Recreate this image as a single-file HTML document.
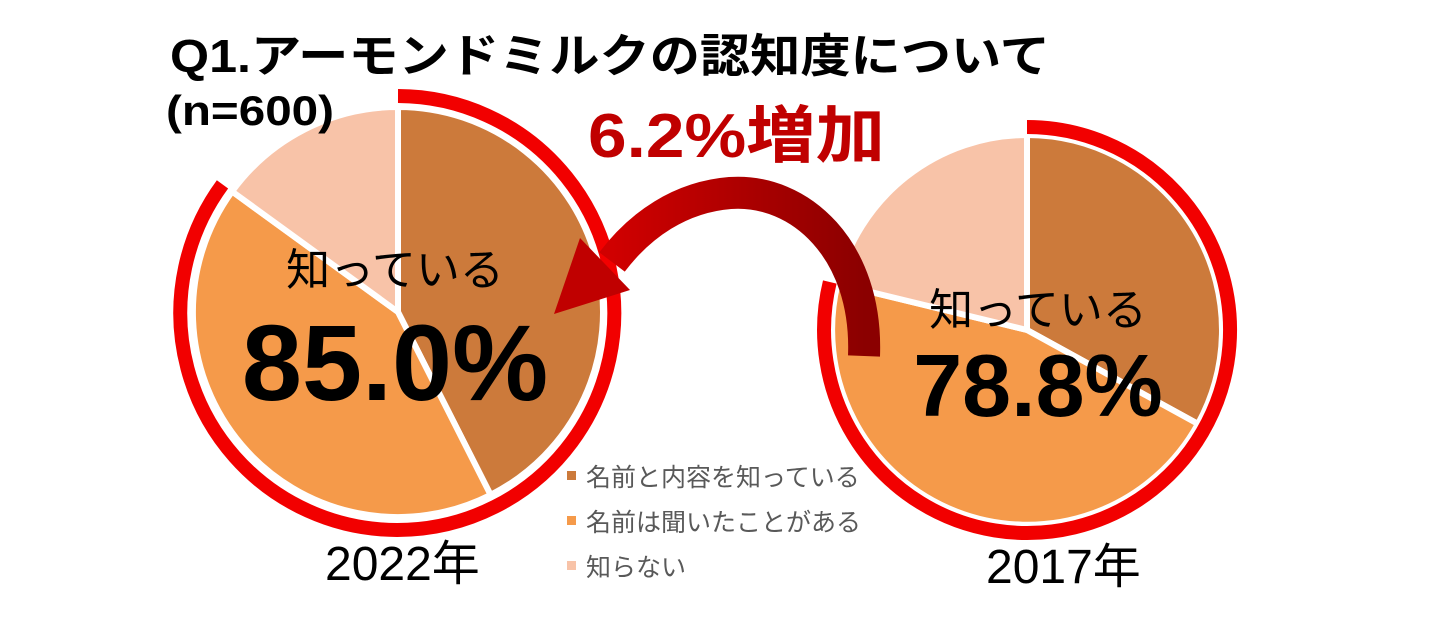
<!DOCTYPE html>
<html><head><meta charset="utf-8"><style>
html,body{margin:0;padding:0;background:#fff;}
body{width:1452px;height:621px;overflow:hidden;position:relative;font-family:"Liberation Sans","Noto Sans CJK JP",sans-serif;}
</style></head><body>
<svg width="1452" height="621" viewBox="0 0 1452 621" xmlns="http://www.w3.org/2000/svg" style="position:absolute;left:0;top:0">
<defs>
<linearGradient id="ag" x1="0" y1="0" x2="1" y2="0">
<stop offset="0" stop-color="#d00000"/><stop offset="1" stop-color="#8b0000"/>
</linearGradient>
</defs>
<g stroke="#fff" stroke-width="6" stroke-linejoin="round">
<path d="M398,312 L398,107 A205,205 0 0 1 490.6,494.9 Z" fill="#cc7a3b"/>
<path d="M398,312 L490.6,494.9 A205,205 0 0 1 232.1,191.5 Z" fill="#f59a4a"/>
<path d="M398,312 L232.1,191.5 A205,205 0 0 1 398,107 Z" fill="#f8c3a8"/>
</g>
<path d="M398,96 A217,217 0 1 1 222.5,184.4" fill="none" stroke="#f20000" stroke-width="14"/>
<g stroke="#fff" stroke-width="6" stroke-linejoin="round">
<path d="M1027,330 L1027,135 A195,195 0 0 1 1197.9,423.9 Z" fill="#cc7a3b"/>
<path d="M1027,330 L1197.9,423.9 A195,195 0 0 1 837.6,283.9 Z" fill="#f59a4a"/>
<path d="M1027,330 L837.6,283.9 A195,195 0 0 1 1027,135 Z" fill="#f8c3a8"/>
</g>
<path d="M1027,127 A203,203 0 1 1 829.8,282" fill="none" stroke="#f20000" stroke-width="14"/>
<path d="M864,356 C868,250 800,188 730,193 C680,197 640,225 612,262" fill="none" stroke="url(#ag)" stroke-width="32"/>
<polygon points="554,314 630,290 580,238" fill="#c00000"/>
<text x="170" y="72" font-size="46" font-weight="bold" fill="#000" textLength="880" lengthAdjust="spacingAndGlyphs">Q1.アーモンドミルクの認知度について</text>
<text x="166" y="125" font-size="42" font-weight="bold" fill="#000" textLength="168" lengthAdjust="spacingAndGlyphs">(n=600)</text>
<text x="588" y="157" font-size="62" font-weight="bold" fill="#c00000" textLength="297" lengthAdjust="spacingAndGlyphs">6.2%増加</text>
<text x="395" y="285" font-size="44" fill="#000" text-anchor="middle">知っている</text>
<text x="395" y="400" font-size="108" font-weight="bold" fill="#000" text-anchor="middle">85.0%</text>
<text x="1038" y="325" font-size="44" fill="#000" text-anchor="middle">知っている</text>
<text x="1038" y="416" font-size="88" font-weight="bold" fill="#000" text-anchor="middle">78.8%</text>
<rect x="567" y="471" width="9" height="9" fill="#cc7a3b"/>
<text x="586" y="486" font-size="25" fill="#595959">名前と内容を知っている</text>
<rect x="567" y="516" width="9" height="9" fill="#f59a4a"/>
<text x="586" y="531" font-size="25" fill="#595959">名前は聞いたことがある</text>
<rect x="567" y="561" width="9" height="9" fill="#f8c3a8"/>
<text x="586" y="576" font-size="25" fill="#595959">知らない</text>
<text x="325" y="580" font-size="48" fill="#000">2022年</text>
<text x="986" y="583" font-size="48" fill="#000">2017年</text>
</svg>
</body></html>
